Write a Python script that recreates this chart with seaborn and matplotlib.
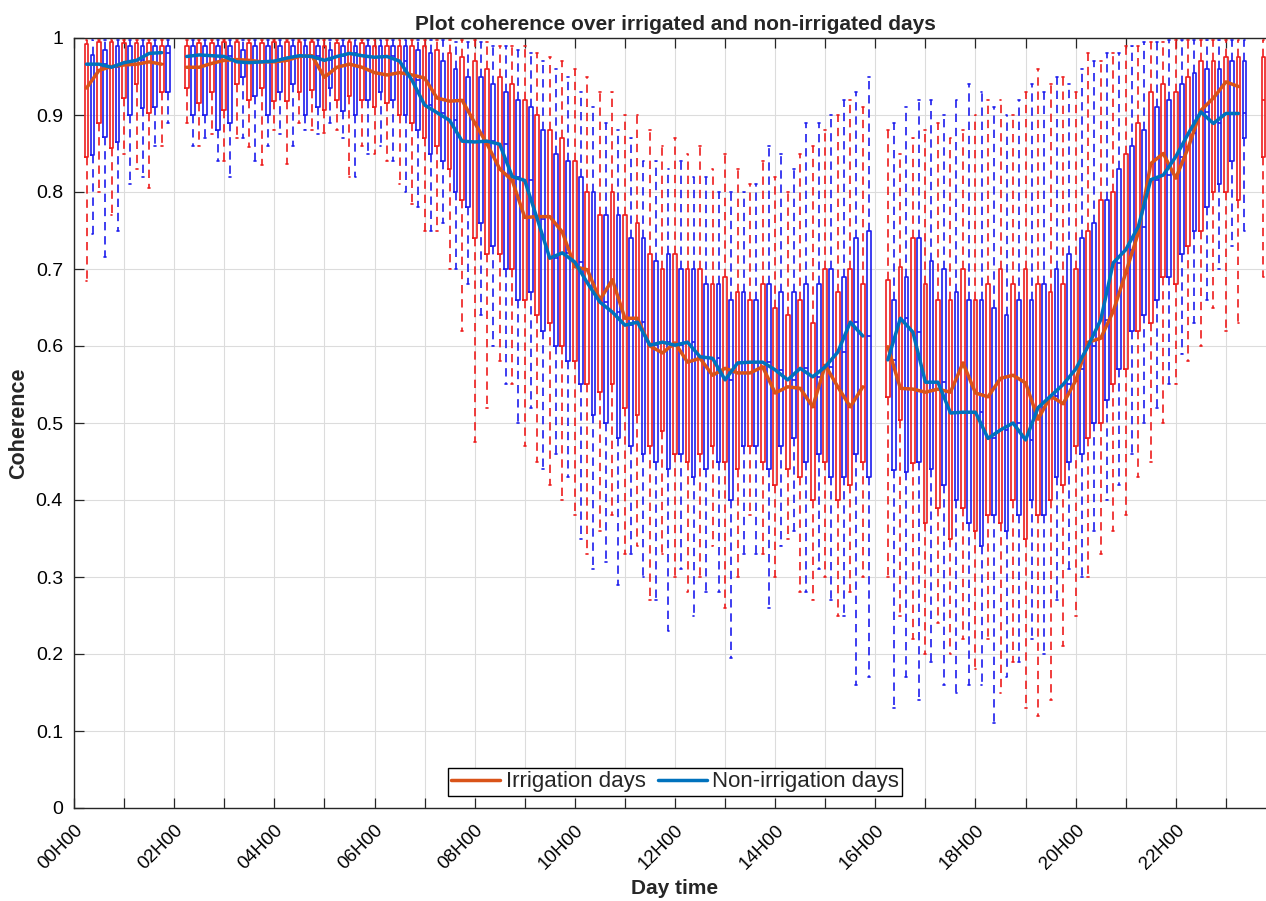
import numpy as np
import pandas as pd
import matplotlib
matplotlib.use("Agg")
import matplotlib.pyplot as plt
from matplotlib.lines import Line2D
from matplotlib.colors import to_rgba
import seaborn as sns

nan = np.nan

# Quarter-hour slots of the day (slot k = k * 15 min); a few slots have no data.
slots = np.arange(1, 96)
groups = ["Irrigation days", "Non-irrigation days"]
hour_labels = ["00H00", "02H00", "04H00", "06H00", "08H00", "10H00",
               "12H00", "14H00", "16H00", "18H00", "20H00", "22H00"]

# ---- Irrigation days: whisker low, Q1, median, Q3, whisker high ----
irr_lo = [0.685, 0.80, 0.77, 0.85, 0.83, 0.805, 0.86, nan,
          0.89, 0.86, 0.875, 0.84, 0.87, 0.858, 0.835, 0.88, 0.837, 0.89, 0.88, 0.877, 0.88, 0.82, 0.86,
          0.85, 0.84, 0.81, 0.785, 0.75, 0.75, 0.70, 0.62, 0.475, 0.52, 0.58, 0.55,
          0.47, 0.45, 0.42, 0.40, 0.38, 0.33, 0.36, 0.38, 0.33, 0.34, 0.27, 0.33, 0.30, 0.28,
          0.30, 0.34, 0.26, 0.30, 0.38, 0.33, 0.30, 0.35, 0.28, 0.27, 0.30, 0.25, 0.28, 0.30, nan,
          0.30, 0.25, 0.22, 0.20, 0.24, 0.20, 0.22, 0.18, 0.22, 0.15, 0.19, 0.13, 0.12, 0.14, 0.21,
          0.25, 0.30, 0.33, 0.36, 0.38, 0.43, 0.45, 0.50, 0.55, 0.58, 0.60, 0.65, 0.62, 0.63, nan, 0.69]
irr_q1 = [0.845, 0.89, 0.857, 0.922, 0.94, 0.903, 0.93, nan,
          0.935, 0.915, 0.93, 0.906, 0.94, 0.92, 0.935, 0.918, 0.918, 0.93, 0.932, 0.906, 0.92, 0.925, 0.92,
          0.91, 0.915, 0.90, 0.89, 0.87, 0.86, 0.83, 0.79, 0.74, 0.72, 0.72, 0.70,
          0.66, 0.64, 0.63, 0.60, 0.58, 0.55, 0.54, 0.55, 0.52, 0.51, 0.47, 0.49, 0.46, 0.45,
          0.46, 0.47, 0.45, 0.44, 0.47, 0.45, 0.42, 0.44, 0.43, 0.40, 0.45, 0.40, 0.42, 0.45, nan,
          0.534, 0.504, 0.448, 0.37, 0.39, 0.35, 0.39, 0.36, 0.38, 0.37, 0.40, 0.35, 0.38, 0.40, 0.42,
          0.47, 0.48, 0.50, 0.55, 0.57, 0.62, 0.63, 0.69, 0.68, 0.73, 0.75, 0.80, 0.80, 0.79, nan, 0.845]
irr_med = [0.935, 0.958, 0.963, 0.965, 0.966, 0.969, 0.966, nan,
           0.962, 0.962, 0.967, 0.971, 0.972, 0.971, 0.969, 0.969, 0.971, 0.976, 0.977, 0.949, 0.962, 0.966, 0.962,
           0.955, 0.952, 0.955, 0.952, 0.948, 0.922, 0.918, 0.919, 0.89, 0.862, 0.83, 0.815,
           0.767, 0.768, 0.768, 0.748, 0.703, 0.699, 0.66, 0.686, 0.636, 0.636, 0.60, 0.591, 0.604, 0.579,
           0.584, 0.562, 0.571, 0.565, 0.565, 0.573, 0.539, 0.547, 0.545, 0.521, 0.575, 0.547, 0.521, 0.547, nan,
           0.599, 0.545, 0.544, 0.54, 0.544, 0.54, 0.578, 0.539, 0.534, 0.558, 0.562, 0.552, 0.505, 0.535, 0.525,
           0.555, 0.605, 0.61, 0.645, 0.695, 0.747, 0.837, 0.85, 0.818, 0.858, 0.906, 0.922, 0.943, 0.937, nan, 0.92]
irr_q3 = [0.992, 0.995, 0.995, 0.993, 0.993, 0.993, 0.99, nan,
          0.99, 0.993, 0.993, 0.995, 0.995, 0.993, 0.993, 0.995, 0.995, 0.995, 0.995, 0.99, 0.993, 0.995, 0.993,
          0.99, 0.99, 0.99, 0.99, 0.99, 0.985, 0.98, 0.975, 0.97, 0.96, 0.95, 0.94,
          0.92, 0.90, 0.88, 0.87, 0.84, 0.80, 0.77, 0.80, 0.77, 0.76, 0.72, 0.70, 0.72, 0.70,
          0.70, 0.68, 0.69, 0.67, 0.66, 0.68, 0.65, 0.64, 0.66, 0.63, 0.70, 0.67, 0.70, 0.68, nan,
          0.686, 0.703, 0.74, 0.68, 0.66, 0.66, 0.70, 0.66, 0.68, 0.70, 0.68, 0.70, 0.68, 0.67, 0.68,
          0.70, 0.75, 0.79, 0.80, 0.85, 0.89, 0.93, 0.94, 0.93, 0.95, 0.97, 0.97, 0.975, 0.975, nan, 0.975]
irr_hi = [0.998, 0.998, 0.998, 0.998, 0.998, 0.998, 0.998, nan,
          0.998, 0.998, 0.998, 0.998, 0.998, 0.998, 0.998, 0.998, 0.998, 0.998, 0.998, 0.998, 0.998, 0.998, 0.998,
          0.998, 0.998, 0.998, 0.998, 0.998, 0.998, 0.998, 0.998, 0.998, 0.995, 0.99, 0.99,
          0.99, 0.98, 0.975, 0.97, 0.96, 0.95, 0.93, 0.93, 0.90, 0.90, 0.88, 0.86, 0.87, 0.85,
          0.86, 0.83, 0.85, 0.83, 0.81, 0.84, 0.82, 0.80, 0.85, 0.86, 0.88, 0.90, 0.92, 0.91, nan,
          0.88, 0.85, 0.87, 0.88, 0.89, 0.87, 0.88, 0.90, 0.92, 0.92, 0.90, 0.93, 0.96, 0.94, 0.95,
          0.93, 0.98, 0.97, 0.98, 0.99, 0.99, 0.995, 0.995, 0.998, 0.998, 0.998, 0.998, 0.998, 0.998, nan, 0.998]

# ---- Non-irrigation days ----
non_lo = [0.745, 0.715, 0.75, 0.81, 0.82, 0.86, 0.89, nan,
          0.86, 0.87, 0.84, 0.82, 0.87, 0.84, 0.86, 0.875, 0.86, 0.88, 0.875, 0.89, 0.87, 0.82, 0.85,
          0.86, 0.84, 0.80, 0.78, 0.75, 0.76, 0.70, 0.68, 0.64, 0.60, 0.55, 0.50,
          0.52, 0.44, 0.46, 0.43, 0.35, 0.31, 0.32, 0.29, 0.33, 0.30, 0.27, 0.23, 0.31, 0.25,
          0.28, 0.28, 0.195, 0.33, 0.33, 0.26, 0.34, 0.36, 0.28, 0.31, 0.27, 0.25, 0.16, 0.17, nan,
          0.13, 0.17, 0.14, 0.19, 0.16, 0.15, 0.16, 0.16, 0.11, 0.17, 0.19, 0.22, 0.20, 0.27, 0.31,
          0.30, 0.36, 0.40, 0.42, 0.46, 0.50, 0.52, 0.55, 0.59, 0.63, 0.66, 0.70, 0.73, 0.75, nan, nan]
non_q1 = [0.848, 0.871, 0.865, 0.90, 0.909, 0.91, 0.93, nan,
          0.90, 0.90, 0.88, 0.89, 0.95, 0.925, 0.90, 0.93, 0.94, 0.90, 0.91, 0.935, 0.905, 0.90, 0.92,
          0.93, 0.92, 0.90, 0.88, 0.85, 0.84, 0.80, 0.78, 0.76, 0.73, 0.70, 0.66,
          0.67, 0.62, 0.60, 0.58, 0.55, 0.51, 0.50, 0.48, 0.47, 0.46, 0.45, 0.44, 0.46, 0.43,
          0.44, 0.45, 0.40, 0.47, 0.47, 0.44, 0.47, 0.48, 0.45, 0.46, 0.43, 0.43, 0.46, 0.43, nan,
          0.439, 0.436, 0.45, 0.44, 0.42, 0.40, 0.37, 0.34, 0.38, 0.36, 0.38, 0.40, 0.38, 0.43, 0.45,
          0.46, 0.50, 0.53, 0.57, 0.62, 0.64, 0.66, 0.69, 0.72, 0.75, 0.78, 0.81, 0.84, 0.87, nan, nan]
non_med = [0.966, 0.966, 0.962, 0.968, 0.971, 0.98, 0.981, nan,
           0.976, 0.978, 0.977, 0.976, 0.969, 0.968, 0.969, 0.970, 0.974, 0.977, 0.976, 0.971, 0.976, 0.98, 0.977,
           0.975, 0.976, 0.97, 0.945, 0.913, 0.903, 0.893, 0.866, 0.865, 0.866, 0.862, 0.82,
           0.815, 0.765, 0.714, 0.721, 0.709, 0.682, 0.657, 0.644, 0.627, 0.631, 0.601, 0.605, 0.601, 0.605,
           0.586, 0.584, 0.556, 0.578, 0.579, 0.579, 0.569, 0.556, 0.571, 0.56, 0.573, 0.592, 0.631, 0.613, nan,
           0.582, 0.636, 0.618, 0.553, 0.553, 0.513, 0.514, 0.514, 0.48, 0.491, 0.50, 0.478, 0.52, 0.535, 0.55,
           0.57, 0.60, 0.634, 0.708, 0.725, 0.755, 0.816, 0.822, 0.846, 0.876, 0.904, 0.889, 0.902, 0.902, nan, nan]
non_q3 = [0.978, 0.985, 0.99, 0.99, 0.99, 0.99, 0.99, nan,
          0.99, 0.99, 0.99, 0.99, 0.985, 0.99, 0.99, 0.99, 0.99, 0.99, 0.99, 0.985, 0.99, 0.99, 0.99,
          0.99, 0.99, 0.99, 0.985, 0.98, 0.97, 0.96, 0.95, 0.95, 0.94, 0.93, 0.92,
          0.91, 0.88, 0.85, 0.84, 0.82, 0.80, 0.77, 0.77, 0.74, 0.74, 0.71, 0.72, 0.70, 0.70,
          0.68, 0.68, 0.66, 0.67, 0.66, 0.68, 0.67, 0.67, 0.68, 0.68, 0.70, 0.69, 0.74, 0.75, nan,
          0.66, 0.69, 0.74, 0.71, 0.70, 0.67, 0.66, 0.66, 0.65, 0.64, 0.66, 0.66, 0.68, 0.70, 0.72,
          0.74, 0.76, 0.79, 0.83, 0.86, 0.88, 0.91, 0.92, 0.94, 0.955, 0.96, 0.96, 0.97, 0.97, nan, nan]
non_hi = [0.998, 0.998, 0.998, 0.998, 0.998, 0.998, 0.998, nan,
          0.998, 0.998, 0.998, 0.998, 0.998, 0.998, 0.998, 0.998, 0.998, 0.998, 0.998, 0.998, 0.998, 0.998, 0.998,
          0.998, 0.998, 0.998, 0.998, 0.998, 0.998, 0.995, 0.995, 0.995, 0.99, 0.99, 0.985,
          0.98, 0.97, 0.96, 0.95, 0.93, 0.91, 0.89, 0.88, 0.87, 0.84, 0.84, 0.83, 0.84, 0.82,
          0.82, 0.80, 0.80, 0.80, 0.81, 0.86, 0.85, 0.83, 0.89, 0.89, 0.90, 0.92, 0.93, 0.95, nan,
          0.89, 0.91, 0.92, 0.92, 0.90, 0.92, 0.94, 0.93, 0.91, 0.90, 0.92, 0.94, 0.93, 0.95, 0.94,
          0.96, 0.97, 0.98, 0.98, 0.99, 0.995, 0.995, 0.998, 0.998, 0.998, 0.998, 0.998, 0.998, 0.998, nan, nan]

box_colors = {groups[0]: "#ee1c1c", groups[1]: "#1c1cee"}
line_colors = {groups[0]: "#D95319", groups[1]: "#0072BD"}

sns.set_theme(style="ticks")
plt.rcParams["font.family"] = ["Liberation Sans", "DejaVu Sans"]

# Long-form table: each box is given by its five summary values
hours = slots * 0.25
dodge_shift = 0.06
rows = []
for g, stats in zip(groups, [(irr_lo, irr_q1, irr_med, irr_q3, irr_hi),
                             (non_lo, non_q1, non_med, non_q3, non_hi)]):
    for i, h in enumerate(hours):
        vals = [s[i] for s in stats]
        if np.isnan(vals[2]):
            continue
        for v in vals:
            rows.append({"slot": h + dodge_shift, "group": g, "value": v})
box_df = pd.DataFrame(rows)


def segments(med):
    """Label continuous runs of the median series so gaps stay open."""
    seg_id, out, prev_nan = 0, [], False
    for m in med:
        if np.isnan(m):
            prev_nan = True
        else:
            if prev_nan:
                seg_id += 1
            prev_nan = False
        out.append(seg_id)
    return out


med_df = pd.concat([
    pd.DataFrame({"hour": hours, "median": irr_med, "group": groups[0], "segment": segments(irr_med)}),
    pd.DataFrame({"hour": hours, "median": non_med, "group": groups[1], "segment": segments(non_med)}),
]).dropna(subset=["median"])

fig = plt.figure(figsize=(12.66, 9.01), dpi=100)
ax = fig.add_axes([74 / 1266, 93 / 901, 1202 / 1266, 770 / 901])

sns.boxplot(data=box_df, x="slot", y="value", hue="group", hue_order=groups,
            native_scale=True, dodge=True, width=0.96, gap=0.38, whis=(0, 100),
            fill=False, palette=box_colors, linewidth=1.2, showfliers=False,
            whiskerprops={"linestyle": (0, (5, 3.5))}, legend=False, ax=ax)

for p in ax.patches:
    ec = p.get_edgecolor()
    p.set_fill(True)
    p.set_facecolor(to_rgba(ec[:3], 0.72))

sns.lineplot(data=med_df, x="hour", y="median", hue="group", hue_order=groups,
             units="segment", estimator=None, palette=line_colors, linewidth=2.5,
             legend=False, ax=ax, zorder=5)

ax.set_xlim(0, 24)
ax.set_ylim(0, 1)
ax.set_xticks(np.arange(0, 24))
ax.set_xticklabels([hour_labels[h // 2] if h % 2 == 0 else "" for h in range(24)],
                   rotation=45, ha="right", va="top", rotation_mode="anchor", fontsize=13.5)
yt = np.round(np.arange(0, 1.01, 0.1), 1)
ax.set_yticks(yt)
ax.set_yticklabels(["0", "0.1", "0.2", "0.3", "0.4", "0.5", "0.6", "0.7", "0.8", "0.9", "1"], fontsize=14)
ax.tick_params(direction="in", length=7, width=0.9, top=True, right=True, colors="#262626",
               labelcolor="black")
ax.tick_params(axis="x", pad=10)
ax.tick_params(axis="y", pad=8)
ax.grid(True, color="#dcdcdc", linewidth=0.8)
ax.set_axisbelow(True)
for s in ax.spines.values():
    s.set_visible(True)
    s.set_color("#262626")
    s.set_linewidth(1.0)

ax.set_title("Plot coherence over irrigated and non-irrigated days",
             fontsize=15, fontweight="bold", pad=6)
ax.set_xlabel("Day time", fontsize=15, fontweight="bold", labelpad=4)
ax.set_ylabel("Coherence", fontsize=15.5, fontweight="bold", labelpad=5)

handles = [Line2D([], [], color=line_colors[g], linewidth=2.5) for g in groups]
ax.legend(handles, groups, loc="lower center", bbox_to_anchor=(0.5, 0.016), ncol=2,
          frameon=True, fancybox=False, edgecolor="black", framealpha=1,
          fontsize=16, handlelength=2.2, handletextpad=0.25, columnspacing=0.55,
          borderpad=0.15, borderaxespad=0)
ax.get_legend().get_frame().set_linewidth(1.0)

fig.savefig("out.png", dpi=100)
